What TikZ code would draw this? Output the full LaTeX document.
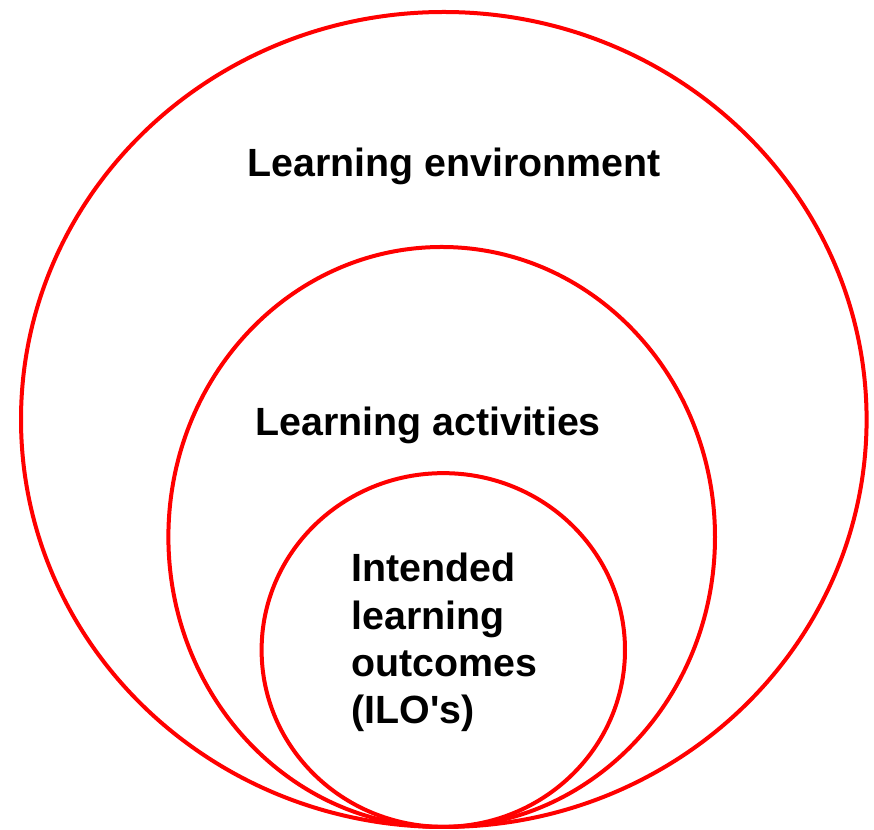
\documentclass[tikz,border=0pt]{standalone}
\usepackage{fontspec}
\setmainfont{Liberation Sans}
\usetikzlibrary{positioning}

\tikzset{
	ring/.style={draw=red, line width=0.08cm},
	label/.style={font=\fontsize{22.4}{27}\selectfont\bfseries, inner sep=0pt, anchor=base}
}

\begin{document}
\begin{tikzpicture}
		%%%%% START %%%%%
		
		\useasboundingbox (0, 0) rectangle (17.48, 16.6);
		
		% nested rings, all touching at the bottom
		\draw[ring] (8.876, 8.21) ellipse (8.456 and 8.15);
		\draw[ring] (8.834, 5.86) ellipse (5.466 and 5.80);
		\draw[ring] (8.866, 3.60) ellipse (3.634 and 3.537);
		
		\node[label] (env) at (9.08, 13.06) {Learning environment};
		\node[label] (act) at (8.56, 7.88) {Learning activities};
		% base of a multi-line node sits on its last line
		\node[label, anchor=base west, align=left] (ilo) at (7.02, 2.12)
			{Intended\\learning\\outcomes\\(ILO\textquotesingle s)};
		
		%%%%% END %%%%%
	\end{tikzpicture}
\end{document}
